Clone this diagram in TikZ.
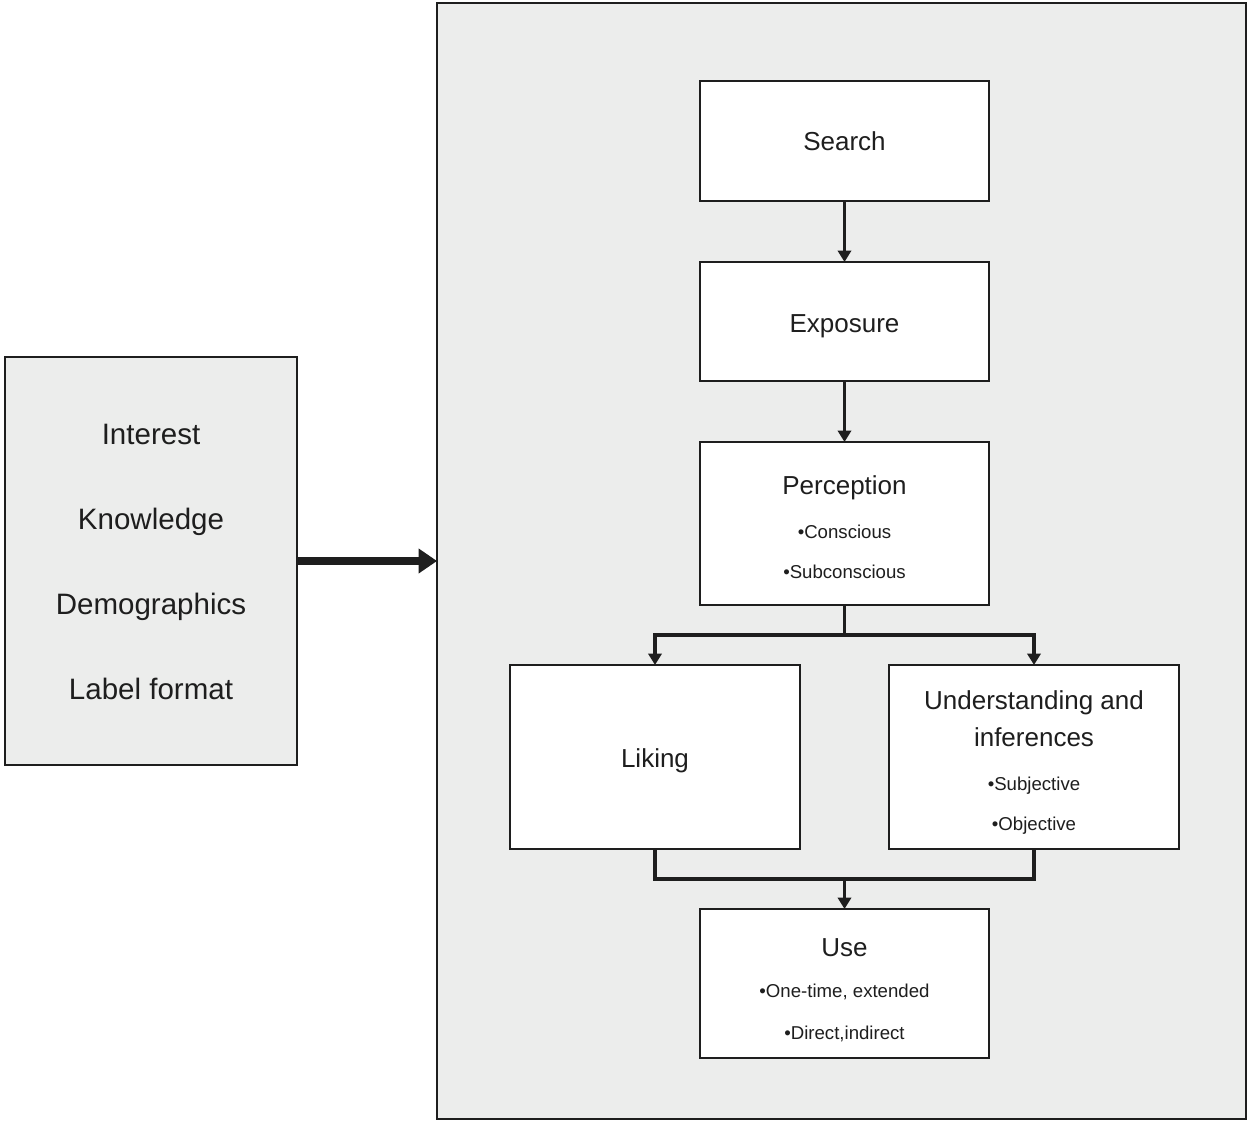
\documentclass[tikz,border=0pt]{standalone}
\usepackage{fontspec}
\setmainfont{Liberation Sans}
\usetikzlibrary{arrows.meta}
\definecolor{panelgray}{HTML}{ECEDEC}
\definecolor{inkc}{HTML}{1E1E1E}
\begin{document}
\begin{tikzpicture}[x=0.02cm,y=-0.02cm,
  panelbox/.style={draw=inkc,line width=1.4pt,fill=panelgray,inner sep=0pt,outer sep=0pt},
  stagebox/.style={draw=inkc,line width=1.4pt,fill=white,inner sep=0pt,outer sep=0pt,minimum width=5.78cm},
  ttl/.style={text=inkc,anchor=mid,inner sep=0pt,font=\fontsize{14.8}{17}\selectfont},
  lefttxt/.style={text=inkc,anchor=mid,inner sep=0pt,font=\fontsize{16.8}{19}\selectfont},
  sub/.style={text=inkc,anchor=mid,inner sep=0pt,font=\fontsize{10.6}{12}\selectfont},
  link/.style={draw=inkc,line width=2.2pt},
  arr/.style={link,-{Triangle[length=6.5pt,width=7.5pt]}},
  bigarr/.style={draw=inkc,line width=4pt,-{Triangle[length=10.5pt,width=13.5pt]}}
]
\useasboundingbox[fill=white] (0,0) rectangle (1248,1122);

% panels
\node[panelbox,minimum width=16.18cm,minimum height=22.32cm] (panel) at (841.5,561) {};
\node[panelbox,minimum width=5.84cm,minimum height=8.16cm] (left) at (151,561) {};

% stage boxes
\node[stagebox,minimum height=2.4cm] (search) at (844.5,141) {};
\node[stagebox,minimum height=2.38cm] (expo) at (844.5,321.5) {};
\node[stagebox,minimum height=3.26cm] (perc) at (844.5,523.5) {};
\node[stagebox,minimum width=5.8cm,minimum height=3.68cm] (liking) at (655,757) {};
\node[stagebox,minimum width=5.8cm,minimum height=3.68cm] (und) at (1034,757) {};
\node[stagebox,minimum height=2.98cm] (use) at (844.5,983.5) {};

% left texts
\node[lefttxt] (t1) at (151,440) {Interest};
\node[lefttxt] (t2) at (151,525) {Knowledge};
\node[lefttxt] (t3) at (151,610) {Demographics};
\node[lefttxt] (t4) at (151,695) {Label format};

% stage texts
\node[ttl] (tsearch) at (844.5,146) {Search};
\node[ttl] (texpo) at (844.5,328) {Exposure};
\node[ttl] (tperc) at (844.5,490) {Perception};
\node[sub] (tperc1) at (844.5,534) {•Conscious};
\node[sub] (tperc2) at (844.5,574) {•Subconscious};
\node[ttl] (tlike) at (655,763) {Liking};
\node[ttl] (tund1) at (1034,705) {Understanding and};
\node[ttl] (tund2) at (1034,742) {inferences};
\node[sub] (tund3) at (1034,786) {•Subjective};
\node[sub] (tund4) at (1034,826) {•Objective};
\node[ttl] (tuse) at (844.5,952) {Use};
\node[sub] (tuse1) at (844.5,993) {•One-time, extended};
\node[sub] (tuse2) at (844.5,1035) {•Direct,indirect};

% connectors
\draw[bigarr] (left.east) -- (panel.west);
\draw[arr] (search.south) -- (expo.north);
\draw[arr] (expo.south) -- (perc.north);
\coordinate (split) at (844.5,635);
\draw[link] (perc.south) -- (split);
\draw[arr] (split) -| (liking.north);
\draw[arr] (split) -| (und.north);
\coordinate (merge) at (844.5,879);
\draw[link] (liking.south) |- (merge);
\draw[link] (und.south) |- (merge);
\draw[arr] (merge) -- (use.north);
\end{tikzpicture}
\end{document}
